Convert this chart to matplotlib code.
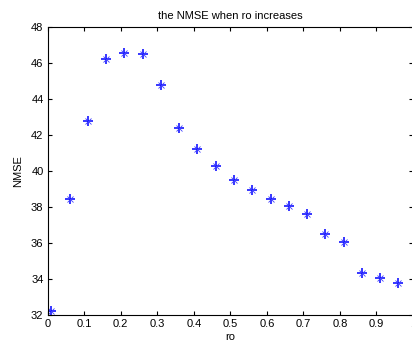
import numpy as np
import matplotlib.pyplot as plt

plt.rcParams['font.family'] = ['Liberation Sans', 'DejaVu Sans']

ro = [0.01, 0.06, 0.11, 0.16, 0.21, 0.26, 0.31, 0.36, 0.41, 0.46,
      0.51, 0.56, 0.61, 0.66, 0.71, 0.76, 0.81, 0.86, 0.91, 0.96]
nmse = [32.2, 38.45, 42.75, 46.2, 46.55, 46.5, 44.8, 42.4, 41.2, 40.3,
        39.5, 38.95, 38.45, 38.05, 37.6, 36.5, 36.05, 34.35, 34.05, 33.75]
xticks = [0, 0.1, 0.2, 0.3, 0.4, 0.5, 0.6, 0.7, 0.8, 0.9, 1]
yticks = [32, 34, 36, 38, 40, 42, 44, 46, 48]

fig = plt.figure(figsize=(4.12, 3.45), dpi=100)
ax = fig.add_axes([0.1158, 0.087, 0.8867, 0.8348])

# matlab-style '*': a plus with a lighter x on top
ax.plot(ro, nmse, linestyle='none', marker='+', markersize=7,
        markeredgewidth=1.1, color='blue')
ax.plot(ro, nmse, linestyle='none', marker='x', markersize=5,
        markeredgewidth=0.6, color='#4040ff')

ax.set_xlim(0, 1)
ax.set_ylim(32, 48)
ax.set_xticks(xticks)
ax.set_xticklabels(['0', '0.1', '0.2', '0.3', '0.4', '0.5', '0.6', '0.7', '0.8', '0.9', '1'])
ax.set_yticks(yticks)
ax.tick_params(direction='in', top=True, right=True, labelsize=8, length=3, width=0.8, pad=3)
for s in ax.spines.values():
    s.set_linewidth(0.8)

ax.set_title('the NMSE when ro increases', fontsize=8, pad=6)
ax.set_xlabel('ro', fontsize=8, labelpad=2)
ax.set_ylabel('NMSE', fontsize=8, labelpad=6)

fig.savefig('out.png', dpi=100)
